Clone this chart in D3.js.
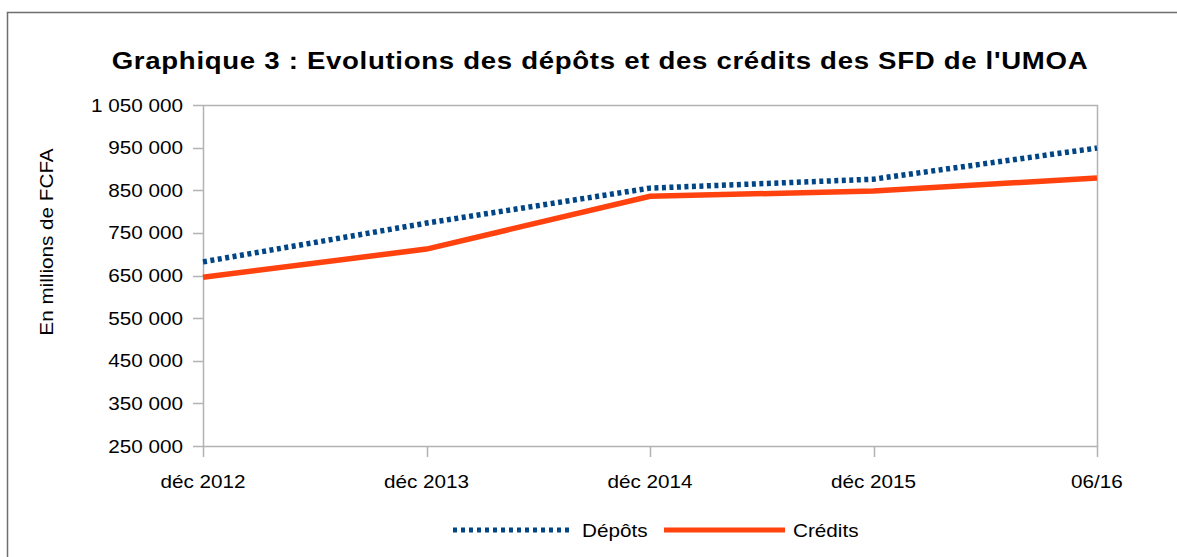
<!DOCTYPE html>
<html>
<head>
<meta charset="utf-8">
<script src="https://cdn.jsdelivr.net/npm/d3@7"></script>
<style>
	body { margin: 0; background: #fff; }
	svg { font-family: "Liberation Sans", Arial, sans-serif; }
</style>
</head>
<body>
<script>
	'use strict';

	// data
	var categories = ["déc 2012", "déc 2013", "déc 2014", "déc 2015", "06/16"];
	var depots = [682000, 773000, 855000, 876000, 949000];
	var credits = [646000, 712000, 836000, 848000, 879000];
	var yTicks = [250000, 350000, 450000, 550000, 650000, 750000, 850000, 950000, 1050000];

	var W = 1177, H = 557;
	var margin = { top: 105, right: 80, bottom: 111, left: 203 };
	var sx = 1.15; // text in the picture is a bit wider than tall

	var svg = d3.select("body").append("svg")
		.attr("width", W)
		.attr("height", H);

	// outer frame (runs off the right and bottom edges)
	svg.append("rect")
		.attr("x", 7.5).attr("y", 12.5)
		.attr("width", W).attr("height", H)
		.attr("fill", "none")
		.attr("stroke", "#6e6e6e")
		.attr("stroke-width", 1.5);

	function label(g, x, y, txt, size, anchor, weight) {
		return g.append("text")
			.attr("transform", "translate(" + x + "," + y + ") scale(" + sx + ",1)")
			.attr("text-anchor", anchor || "start")
			.attr("font-size", size)
			.attr("font-weight", weight || "normal")
			.attr("fill", "#000")
			.text(txt);
	}

	var x = d3.scalePoint().domain(categories).range([margin.left, W - margin.right]);
	var y = d3.scaleLinear().domain([250000, 1050000]).range([H - margin.bottom, margin.top]);

	// title
	label(svg, 600, 69, "Graphique 3 : Evolutions des dépôts et des crédits des SFD de l'UMOA", 24, "middle", "bold")
		.attr("letter-spacing", 0.6);

	// plot frame
	svg.append("rect")
		.attr("x", margin.left + 0.5).attr("y", y(1050000) + 0.5)
		.attr("width", x.range()[1] - margin.left)
		.attr("height", y(250000) - y(1050000))
		.attr("fill", "none")
		.attr("stroke", "#b3b3b3")
		.attr("stroke-width", 1.5);

	// y axis
	var fmt = function(v) { return d3.format(",")(v).replace(/,/g, " "); };
	var yAxis = svg.append("g");
	yTicks.forEach(function(t) {
		yAxis.append("line")
			.attr("x1", margin.left - 10).attr("x2", margin.left)
			.attr("y1", Math.round(y(t)) + 0.5).attr("y2", Math.round(y(t)) + 0.5)
			.attr("stroke", "#b3b3b3").attr("stroke-width", 1.5);
		label(yAxis, 183, y(t) + 6.5, fmt(t), 18, "end");
	});

	// x axis
	var xAxis = svg.append("g");
	categories.forEach(function(c) {
		xAxis.append("line")
			.attr("x1", Math.round(x(c)) + 0.5).attr("x2", Math.round(x(c)) + 0.5)
			.attr("y1", y(250000)).attr("y2", y(250000) + 11)
			.attr("stroke", "#b3b3b3").attr("stroke-width", 1.5);
		label(xAxis, x(c), 488, c, 18, "middle");
	});

	// y axis title
	svg.append("text")
		.attr("transform", "translate(53,242) rotate(-90) scale(1.15,1)")
		.attr("text-anchor", "middle")
		.attr("font-size", 18)
		.text("En millions de FCFA");

	// series
	var line = d3.line()
		.x(function(d, i) { return x(categories[i]); })
		.y(function(d) { return y(d); });

	svg.append("path")
		.datum(credits)
		.attr("d", line)
		.attr("fill", "none")
		.attr("stroke", "#ff420e")
		.attr("stroke-width", 5.5);

	svg.append("path")
		.datum(depots)
		.attr("d", line)
		.attr("fill", "none")
		.attr("stroke", "#004586")
		.attr("stroke-width", 5.5)
		.attr("stroke-dasharray", "4,3.5");

	// legend
	var legend = svg.append("g");
	legend.append("line")
		.attr("x1", 453).attr("x2", 573).attr("y1", 530).attr("y2", 530)
		.attr("stroke", "#004586").attr("stroke-width", 5)
		.attr("stroke-dasharray", "4,4");
	label(legend, 582, 537, "Dépôts", 18);
	legend.append("line")
		.attr("x1", 664).attr("x2", 785).attr("y1", 530).attr("y2", 530)
		.attr("stroke", "#ff420e").attr("stroke-width", 5);
	label(legend, 793, 537, "Crédits", 18);
</script>
</body>
</html>
